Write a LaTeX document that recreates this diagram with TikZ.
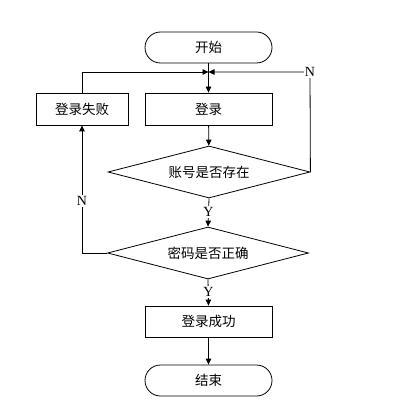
\documentclass[tikz,border=0pt]{standalone}
\usepackage{fontspec}
\newfontfamily\cjk{Noto Sans CJK SC}
\newfontfamily\latin{Liberation Serif}
\usetikzlibrary{shapes.geometric,arrows.meta}
\begin{document}
\begin{tikzpicture}[x=1pt,y=-1pt,
  line width=0.8pt,
  every node/.style={font=\cjk\fontsize{13.5}{15}\selectfont},
  term/.style={draw, rectangle, rounded corners=15.5pt, minimum width=127pt, minimum height=31pt, inner sep=0pt},
  proc/.style={draw, rectangle, minimum width=127pt, minimum height=32pt, inner sep=0pt},
  dec/.style={draw, diamond, aspect=4, minimum width=202pt, minimum height=52pt, inner sep=0pt},
  arr/.style={-{Triangle[length=6pt,width=5.5pt]}},
  lab/.style={fill=white, inner sep=1pt, font=\latin\fontsize{14}{15}\selectfont}]
\useasboundingbox (0,0) rectangle (398,406);
\node[term] (start) at (208.5,47.5) {开始};
\node[proc] (login) at (208.5,109) {登录};
\node[proc, minimum width=92pt] (fail) at (82,109) {登录失败};
\node[dec] (d1) at (209,172) {账号是否存在};
\node[dec, minimum width=201pt] (d2) at (208,253) {密码是否正确};
\node[proc, minimum height=31pt] (succ) at (208.5,321.5) {登录成功};
\node[term] (end) at (208.5,380.5) {结束};
\coordinate (j) at (208.5,72);
\coordinate (cr) at (310,72);
\coordinate (cl) at (82,253);
\draw[arr] (start) -- (login);
\draw[arr] (fail.north) |- (j);
\draw[arr] (d1.east) -- (cr) -- (j);
\node[lab] at (cr) {N};
\draw[arr] (login) -- (d1);
\draw[arr] (d1.south) -- (d2.north);
\node[lab] at (208.5,212) {Y};
\draw[arr] (d2.west) -- (cl) -- (fail.south);
\node[lab] at (82,201) {N};
\draw[arr] (d2.south) -- (succ.north);
\node[lab] at (208.5,292) {Y};
\draw[arr] (succ) -- (end);
\end{tikzpicture}
\end{document}
